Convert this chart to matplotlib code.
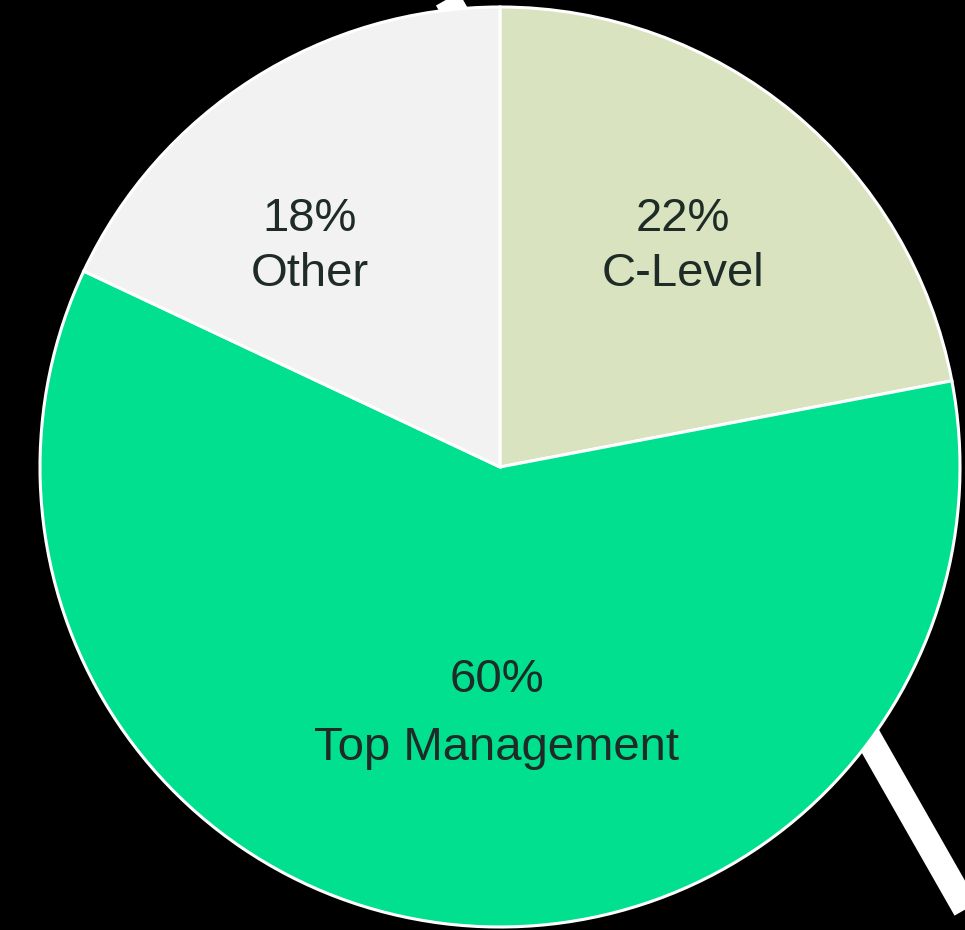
import matplotlib
matplotlib.use("Agg")
import matplotlib.pyplot as plt
import numpy as np

categories = ["C-Level", "Top Management", "Other"]
values = [22, 60, 18]
colors = ["#D9E3BF", "#00E08F", "#F2F2F2"]
# label centres (data units, pie radius = 1)
label_pos = [(0.398, 0.479), (-0.007, -0.537), (-0.413, 0.479)]

W, H, DPI = 965, 930, 100
R = 460.0
cx, cy = 500.0, 467.0

fig = plt.figure(figsize=(W / DPI, H / DPI), dpi=DPI, facecolor="black")
ax = fig.add_axes([0, 0, 1, 1])
ax.set_facecolor("black")

def px2d(px, py):
    return (px - cx) / R, (cy - py) / R

wedges, _ = ax.pie(values, colors=colors, startangle=90, counterclock=False,
                   radius=1.0, center=(0, 0),
                   wedgeprops=dict(edgecolor="white", linewidth=2.2), frame=True)
for w in wedges:
    w.set_zorder(2)

# white diagonal band behind the pie
slope = 1.755
p0 = px2d(448 - 100 / slope, -100)
p1 = px2d(448 + 1100 / slope, 1100)
ax.plot([p0[0], p1[0]], [p0[1], p1[1]], color="white", lw=19,
        solid_capstyle="butt", zorder=0)

ax.set_aspect("auto")
ax.set_xlim(-cx / R, (W - cx) / R)
ax.set_ylim(-(H - cy) / R, cy / R)
ax.axis("off")

spacing = {"C-Level": 0.060, "Top Management": 0.074, "Other": 0.060}
for cat, v, (x, y) in zip(categories, values, label_pos):
    s = spacing[cat]
    ax.text(x, y + s, f"{v}%", ha="center", va="center", fontsize=34,
            family="Liberation Sans", color="#1E2B26", zorder=5)
    ax.text(x, y - s, cat, ha="center", va="center", fontsize=34,
            family="Liberation Sans", color="#1E2B26", zorder=5)

fig.savefig("out.png", dpi=DPI, facecolor="black")
